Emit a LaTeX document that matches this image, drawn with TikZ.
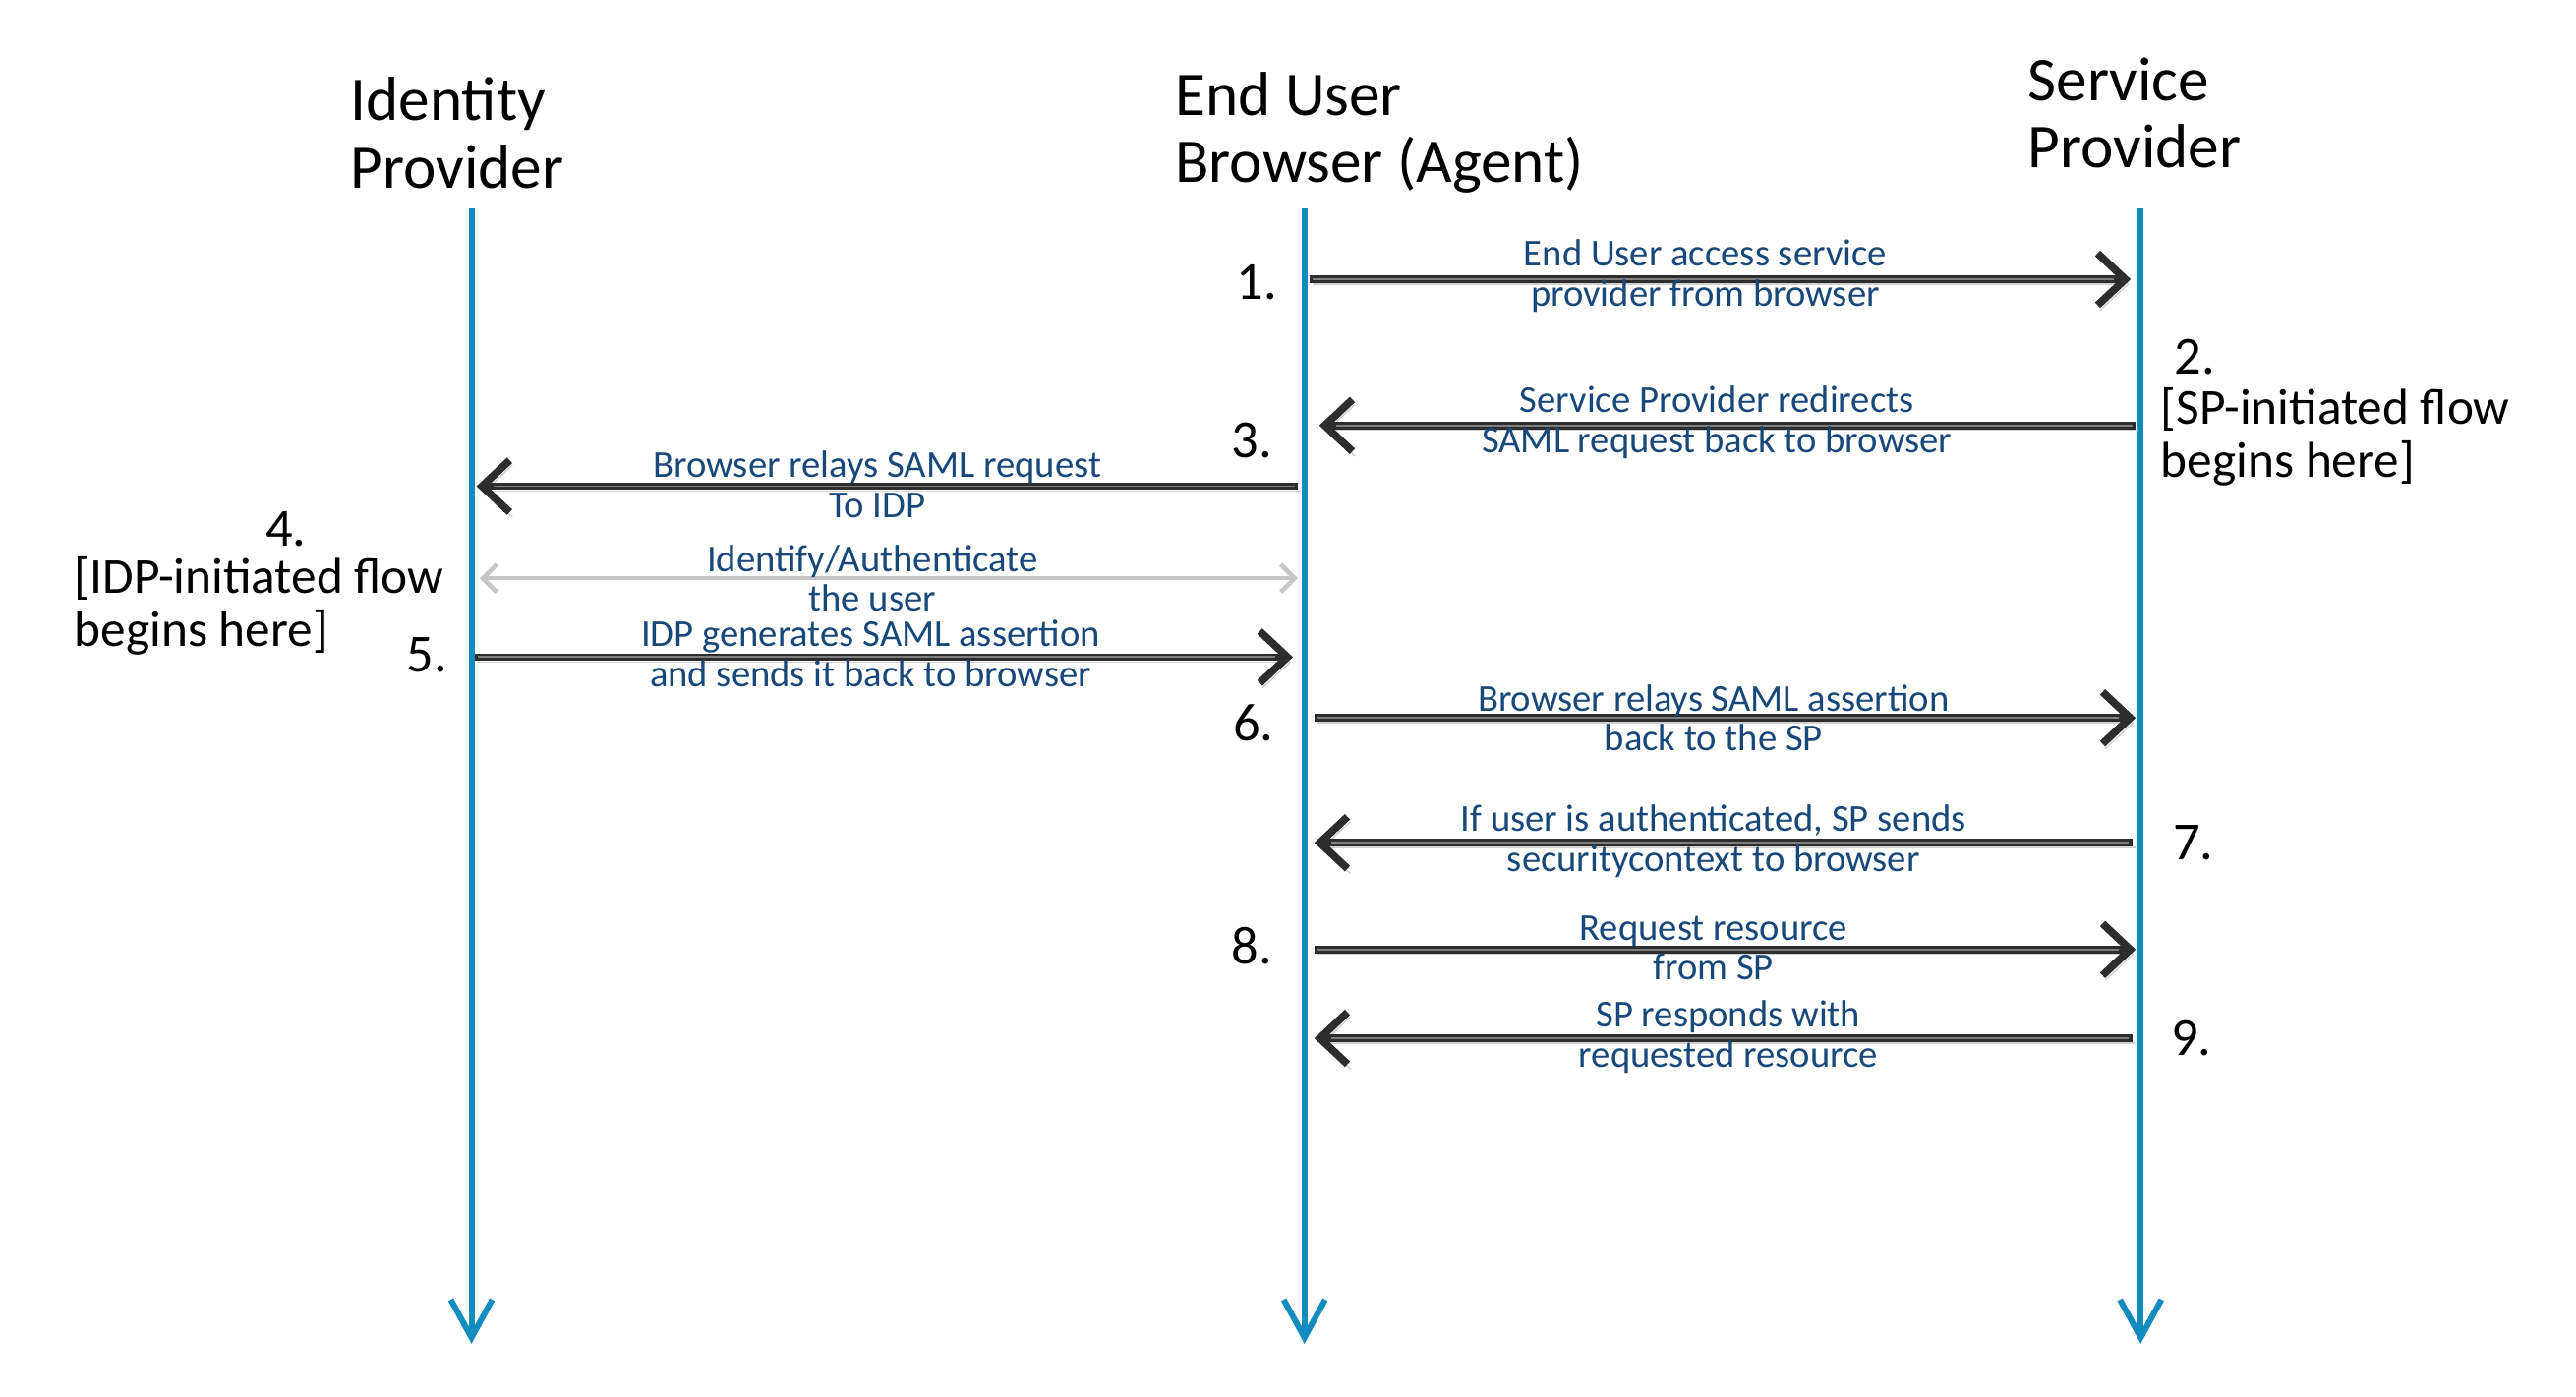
\documentclass[tikz,border=0pt]{standalone}
\usepackage{fontspec}
\setmainfont{Carlito}
\usetikzlibrary{arrows.meta}
\definecolor{lifeblue}{RGB}{18,140,190}
\definecolor{msgblue}{RGB}{24,72,122}
\definecolor{msgdark}{RGB}{45,45,45}

\begin{document}
\begin{tikzpicture}[x=0.01671cm,y=-0.01671cm,
  lifeline/.style={draw=lifeblue,line width=1.7pt,
    -{Straight Barb[length=11pt,width=12pt]}},
  message/.style={draw=msgdark,line width=2.2pt,
    -{Straight Barb[length=8pt,width=15pt]},
    preaction={draw=black!18,transform canvas={shift={(0.8pt,-1.4pt)}}},
    postaction={draw=black!50,line width=0.5pt,-,shorten >=5pt,shorten <=1pt}},
  authline/.style={draw=black!22,line width=1.3pt,
    {Straight Barb[length=4pt,width=8pt]}-{Straight Barb[length=4pt,width=8pt]}},
  title/.style={font=\fontsize{18}{19.4}\selectfont,align=left,anchor=west,inner sep=0},
  note/.style={font=\fontsize{14.6}{15.4}\selectfont,align=left,anchor=west,inner sep=0},
  num/.style={font=\fontsize{15.5}{16}\selectfont,inner sep=0},
  msglabel/.style={font=\fontsize{11}{11.6}\selectfont,text=msgblue,align=center,inner sep=0}]
\useasboundingbox (0,0) rectangle (1568,850);
% lifelines
\coordinate (idp top) at (287,127);
\coordinate (idp bot) at (287,818);
\coordinate (br top) at (794,127);
\coordinate (br bot) at (794,818);
\coordinate (sp top) at (1303,127);
\coordinate (sp bot) at (1303,818);
\draw[lifeline] (idp top) -- (idp bot);
\draw[lifeline] (br top) -- (br bot);
\draw[lifeline] (sp top) -- (sp bot);
% titles
\node[title] (idp) at (213,81) {Identity\\Provider};
\node[title] (br) at (715,81) {End User\\Browser (Agent)};
\node[title] (sp) at (1234,69) {Service\\Provider};
% message ends
\coordinate (b1) at (797,170);  \coordinate (s1) at (1297,170);
\coordinate (s3) at (1300,259); \coordinate (b3) at (803,259);
\coordinate (b3i) at (790,296); \coordinate (i3) at (290,296);
\coordinate (i4) at (292,352);  \coordinate (b4) at (790,352);
\coordinate (i5) at (289,400);  \coordinate (b5) at (787,400);
\coordinate (b6) at (800,437);  \coordinate (s6) at (1300,437);
\coordinate (s7) at (1298,513); \coordinate (b7) at (800,513);
\coordinate (b8) at (800,578);  \coordinate (s8) at (1300,578);
\coordinate (s9) at (1298,632); \coordinate (b9) at (800,632);
% messages
\draw[message] (b1) -- (s1);
\draw[message] (s3) -- (b3);
\draw[message] (b3i) -- (i3);
\draw[authline] (i4) -- (b4);
\draw[message] (i5) -- (b5);
\draw[message] (b6) -- (s6);
\draw[message] (s7) -- (b7);
\draw[message] (b8) -- (s8);
\draw[message] (s9) -- (b9);
% labels
\node[msglabel] (m1) at (1038,168) {End User access service\\provider from browser};
\node[msglabel] (m3) at (1045,257) {Service Provider redirects\\SAML request back to browser};
\node[msglabel] (m3i) at (534,295) {Browser relays SAML request\\To IDP};
\node[msglabel] (m4) at (531,352) {Identify/Authenticate\\the user};
\node[msglabel] (m5) at (530,398) {IDP generates SAML assertion\\and sends it back to browser};
\node[msglabel] (m6) at (1043,437) {Browser relays SAML assertion\\back to the SP};
\node[msglabel] (m7) at (1043,512) {If user is authenticated, SP sends\\securitycontext to browser};
\node[msglabel] (m8) at (1043,577) {Request resource\\from SP};
\node[msglabel] (m9) at (1052,631) {SP responds with\\requested resource};
% step numbers
\node[num] (n1) at (765,172) {1.};
\node[num] (n2) at (1336,217) {2.};
\node[num] (n3) at (762,268) {3.};
\node[num] (n4) at (174,322) {4.};
\node[num] (n5) at (260,399) {5.};
\node[num] (n6) at (763,440) {6.};
\node[num] (n7) at (1335,513) {7.};
\node[num] (n8) at (762,576) {8.};
\node[num] (n9) at (1334,632) {9.};
% flow notes
\node[note] (sp note) at (1315,266) {[SP-initiated flow\\begins here]};
\node[note] (idp note) at (45,369) {[IDP-initiated flow\\begins here]};
\end{tikzpicture}
\end{document}
